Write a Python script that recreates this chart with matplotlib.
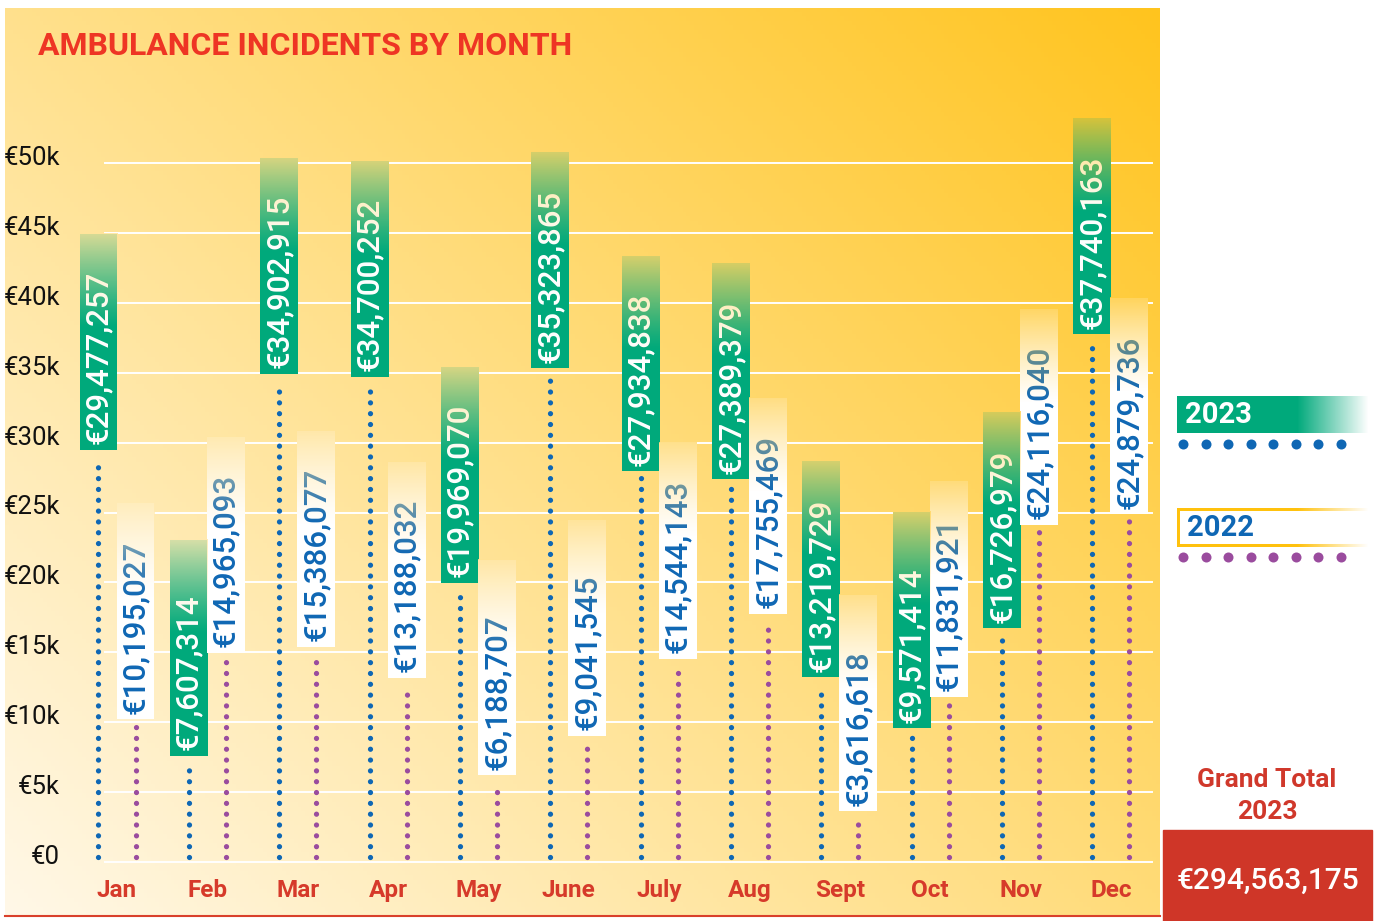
import numpy as np
import matplotlib.pyplot as plt
from matplotlib.colors import to_rgb
from matplotlib.patches import Rectangle

months = ["Jan", "Feb", "Mar", "Apr", "May", "June", "July", "Aug", "Sept", "Oct", "Nov", "Dec"]
spend_2023 = [29477257, 7607314, 34902915, 34700252, 19969070, 35323865,
              27934838, 27389379, 13219729, 9571414, 16726979, 37740163]
spend_2022 = [10195027, 14965093, 15386077, 13188032, 6188707, 9041545,
              14544143, 17755469, 3616618, 11831921, 24116040, 24879736]
y_ticks = [0, 5, 10, 15, 20, 25, 30, 35, 40, 45, 50]
y_tick_labels = ["€0", "€5k", "€10k", "€15k", "€20k", "€25k", "€30k", "€35k", "€40k", "€45k", "€50k"]

GREEN = "#00A97B"
BLUE = "#0F67B4"
PURPLE = "#9A4C9E"
RED = "#D63A2A"

plt.rcParams["font.family"] = ["Roboto", "DejaVu Sans"]

W, H = 1378, 921
fig = plt.figure(figsize=(W / 100, H / 100), dpi=100)


def rect_px(x0, y0, x1, y1):
    return [x0 / W, 1 - y1 / H, (x1 - x0) / W, (y1 - y0) / H]


ax = fig.add_axes(rect_px(5, 8, 1160, 916))
xlim = (-1.2395, 11.543)
ylim = (-3.863, 61.09)
ax.set_xlim(*xlim)
ax.set_ylim(*ylim)

light = np.array(to_rgb("#FFF8E8"))
dark = np.array(to_rgb("#FFC41E"))


def bg_color(x, y):
    u = (np.asarray(x) - xlim[0]) / (xlim[1] - xlim[0])
    v = (np.asarray(y) - ylim[0]) / (ylim[1] - ylim[0])
    t = np.clip(0.55 * u + 0.45 * v, 0, 1)
    return light + (dark - light) * t[..., None]


gx, gy = np.meshgrid(np.linspace(*xlim, 300), np.linspace(*ylim, 200))
ax.imshow(bg_color(gx, gy), extent=(*xlim, *ylim), origin="lower",
          aspect="auto", zorder=0)

# grid
gx0, gx1 = (105 - 117) / 90.36, (1152 - 117) / 90.36
for yt, lab in zip(y_ticks, y_tick_labels):
    ax.plot([gx0, gx1], [yt, yt], color="white", lw=1.4, zorder=1)
    ax.text(0.0476, yt + 0.36, lab, transform=ax.get_yaxis_transform(),
            ha="right", va="center", fontsize=18.5, color="#111111")

bw = 0.42
bh = 15.45
off = 0.205


def value_box(xc, val, face, tcolor, label):
    x0 = xc - bw / 2
    ax.add_patch(Rectangle((x0, val), bw, bh, facecolor=face, lw=0, zorder=3))
    ax.text(xc, val + 0.4, label, rotation=90, rotation_mode="anchor",
            ha="left", va="center", fontsize=22.5, fontweight="medium",
            color=tcolor, zorder=4)
    # fade the top of the box (and text) into the background
    fy0, fy1 = val + bh * 0.56, val + bh
    n = 80
    ys = np.linspace(fy0, fy1, n)
    ov = np.zeros((n, 1, 4))
    ov[:, 0, :3] = bg_color(np.full(n, xc), ys)
    ov[:, 0, 3] = 0.85 * np.linspace(0, 1, n) ** 1.2
    ax.imshow(ov, extent=(x0, x0 + bw, fy0, fy1), origin="lower",
              aspect="auto", zorder=5)


dot_style = dict(lw=3.8, linestyle=(0, (0.001, 2.05)), dash_capstyle="round", zorder=2)

for i, m in enumerate(months):
    v23 = spend_2023[i] / 1e6
    v22 = spend_2022[i] / 1e6
    ax.plot([i - off, i - off], [0.35, v23 - 0.5], color=BLUE, **dot_style)
    ax.plot([i + off, i + off], [0.35, v22 - 0.5], color=PURPLE, **dot_style)
    value_box(i - off, v23, GREEN, "white", f"€{spend_2023[i]:,}")
    value_box(i + off, v22, "white", BLUE, f"€{spend_2022[i]:,}")
    ax.text(i, -2.07, m, ha="center", va="center", fontsize=17.5,
            fontweight="bold", color=RED)

ax.set_xticks([])
ax.set_yticks([])
for side in ["top", "left", "right"]:
    ax.spines[side].set_visible(False)
ax.spines["bottom"].set_color("#D9402B")
ax.spines["bottom"].set_linewidth(1.5)

fig.text(38 / W, 1 - 46 / H, "AMBULANCE INCIDENTS BY MONTH", ha="left", va="center",
         fontsize=23, fontweight="bold", color="#EE3524")

# right-hand panel: legend and grand total
deco = fig.add_axes([0, 0, 1, 1])
deco.set_xlim(0, W)
deco.set_ylim(H, 0)
deco.axis("off")

nx = 191
ramp = np.clip((1368 - np.arange(nx) - 1177) / (1368 - 1297), 0, 1)
leg23 = np.zeros((1, nx, 4))
leg23[0, :, :3] = to_rgb(GREEN)
leg23[0, :, 3] = ramp
deco.imshow(leg23, extent=(1177, 1368, 433, 396), aspect="auto")
deco.text(1185, 415, "2023", ha="left", va="center", fontsize=21,
          fontweight="bold", color="white")
deco.scatter(np.linspace(1183, 1341, 8), [444] * 8, s=52, color=BLUE, lw=0)

hh = 39
leg22 = np.ones((hh, nx, 4))
border = np.zeros((hh, nx), dtype=bool)
border[:3, :] = True
border[-3:, :] = True
border[:, :3] = True
leg22[border, :3] = to_rgb("#FFC20E")
leg22[:, :, 3] = ramp[None, :]
deco.imshow(leg22, extent=(1177, 1368, 547, 508), origin="upper", aspect="auto")
deco.text(1187, 528, "2022", ha="left", va="center", fontsize=21,
          fontweight="bold", color=BLUE)
deco.scatter(np.linspace(1183, 1341, 8), [557] * 8, s=52, color=PURPLE, lw=0)

deco.text(1267, 780, "Grand Total", ha="center", va="center", fontsize=19,
          fontweight="bold", color="#D0382B")
deco.text(1267, 812, "2023", ha="center", va="center", fontsize=19,
          fontweight="bold", color="#D0382B")
deco.add_patch(Rectangle((1163, 830), 209, 91, color="#CF3628"))
deco.text(1267.5, 881, f"€{sum(spend_2023):,}", ha="center", va="center",
          fontsize=21.5, fontweight="medium", color="white")

fig.savefig("out.png", dpi=100)
